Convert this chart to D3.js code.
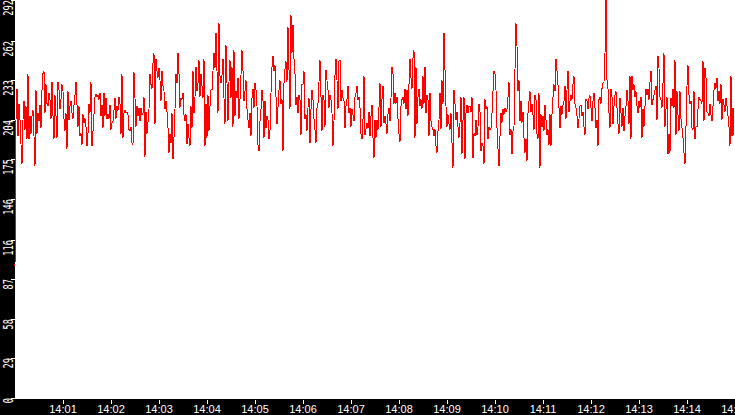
<!DOCTYPE html>
<html>
    <head>
        <title>Sensor trace</title>
        <meta charset="UTF-8">
        <script type="text/javascript" src="https://cdn.jsdelivr.net/npm/d3@7"></script>
        <style>
            body { margin: 0; background: #fff; }
            svg { display: block; }
        </style>
    </head>
    <body>
        <script type="text/javascript">
            // samples taken every 1.25 s starting at 14:00:00
            var startTime = "14:00:00";
            var stepMs = 1250;

            var values = [
                97, 204, 227, 192, 216, 204, 186, 172, 204, 218,
                197, 214, 190, 238, 190, 207, 194, 207, 211, 192,
                170, 226, 194, 209, 203, 215, 198, 226, 238, 240,
                209, 230, 216, 214, 224, 219, 205, 232, 207, 190,
                222, 207, 191, 232, 226, 212, 219, 230, 225, 205,
                196, 209, 183, 225, 204, 214, 218, 209, 205, 215,
                222, 232, 215, 199, 214, 192, 194, 186, 208, 202,
                205, 199, 185, 194, 216, 209, 232, 185, 196, 208,
                221, 223, 221, 222, 219, 224, 207, 215, 198, 224,
                207, 220, 205, 208, 205, 215, 197, 202, 203, 211,
                220, 205, 214, 211, 221, 216, 194, 238, 191, 209,
                211, 209, 210, 208, 197, 196, 199, 187, 186, 239,

                220, 199, 214, 207, 213, 203, 213, 208, 209, 221,
                177, 210, 194, 202, 212, 238, 230, 227, 246, 253,
                201, 249, 240, 235, 242, 233, 218, 240, 229, 225,
                212, 218, 210, 198, 180, 194, 187, 209, 175, 191,
                212, 238, 231, 253, 238, 213, 220, 219, 224, 208,
                203, 208, 186, 201, 191, 185, 214, 198, 240, 209,
                221, 243, 225, 231, 248, 221, 238, 229, 220, 249,
                185, 216, 191, 222, 196, 214, 226, 226, 240, 253,
                242, 268, 240, 209, 275, 236, 231, 237, 249, 220,
                201, 259, 231, 203, 232, 248, 220, 243, 199, 255,
                207, 225, 220, 235, 205, 219, 237, 255, 240, 218,
                225, 233, 212, 204, 198, 209, 192, 220, 227, 213,

                231, 226, 214, 186, 181, 203, 212, 226, 218, 191,
                218, 198, 207, 204, 190, 196, 224, 243, 251, 240,
                244, 221, 201, 213, 226, 233, 216, 219, 181, 231,
                241, 247, 232, 272, 241, 212, 281, 253, 274, 249,
                238, 215, 221, 209, 222, 219, 193, 230, 230, 240,
                205, 208, 196, 213, 220, 187, 212, 226, 219, 205,
                197, 187, 213, 216, 232, 248, 221, 196, 222, 219,
                199, 241, 233, 226, 213, 222, 219, 209, 185, 203,
                237, 249, 233, 212, 247, 248, 218, 226, 220, 218,
                198, 214, 219, 229, 209, 213, 199, 212, 208, 203,
                221, 224, 229, 219, 221, 213, 194, 190, 204, 236,
                193, 197, 202, 198, 210, 192, 207, 215, 191, 176,

                204, 191, 204, 197, 213, 231, 199, 219, 229, 202,
                207, 201, 194, 208, 213, 203, 220, 243, 238, 216,
                224, 216, 221, 205, 194, 188, 214, 219, 221, 216,
                227, 212, 226, 207, 230, 249, 235, 227, 249, 255,
                191, 243, 201, 221, 227, 214, 219, 212, 236, 216,
                243, 209, 222, 219, 192, 224, 203, 199, 197, 192,
                197, 185, 180, 196, 204, 224, 197, 233, 216, 268,
                241, 214, 199, 208, 201, 197, 209, 187, 169, 226,
                216, 204, 210, 199, 191, 202, 221, 179, 204, 221,
                175, 209, 215, 209, 214, 214, 210, 221, 176, 194,
                192, 204, 193, 199, 216, 210, 181, 187, 185, 172,
                219, 212, 214, 190, 199, 197, 198, 209, 225, 240,

                238, 226, 198, 183, 170, 192, 209, 202, 212, 208,
                213, 210, 212, 221, 232, 193, 197, 179, 196, 199,
                241, 275, 258, 225, 233, 203, 218, 202, 210, 191,
                180, 190, 174, 209, 218, 225, 210, 216, 208, 197,
                222, 219, 194, 190, 224, 169, 208, 199, 207, 196,
                215, 204, 193, 197, 186, 208, 185, 208, 221, 230,
                225, 249, 240, 230, 213, 198, 214, 208, 215, 218,
                229, 205, 226, 240, 210, 218, 222, 219, 230, 236,
                216, 213, 207, 198, 205, 214, 215, 207, 210, 199,
                193, 219, 218, 212, 220, 222, 213, 203, 218, 224,
                213, 198, 204, 185, 219, 221, 216, 227, 231, 232,
                253, 292, 233, 227, 209, 198, 227, 221, 201, 214,

                222, 225, 213, 201, 194, 220, 209, 199, 213, 196,
                207, 214, 226, 218, 201, 236, 190, 236, 226, 230,
                221, 225, 214, 209, 218, 213, 221, 191, 212, 199,
                214, 227, 222, 227, 219, 232, 240, 215, 219, 222,
                226, 229, 204, 251, 242, 221, 219, 213, 231, 253,
                199, 212, 221, 179, 194, 180, 220, 214, 227, 213,
                248, 193, 225, 208, 196, 225, 205, 198, 191, 180,
                172, 199, 229, 244, 222, 216, 218, 198, 197, 225,
                190, 199, 199, 212, 221, 219, 218, 216, 247, 203,
                242, 235, 210, 209, 207, 216, 208, 203, 214, 226,
                231, 227, 235, 218, 225, 216, 230, 204, 219, 215,
                210, 220, 214, 207, 199, 185, 236, 192, 213, 193
            ];

            var yTickLabels = [0, 29, 58, 87, 116, 146, 175, 204, 233, 262, 292];
            var xTickLabels = ["14:01", "14:02", "14:03", "14:04", "14:05", "14:06", "14:07", "14:08",
                "14:09", "14:10", "14:11", "14:12", "14:13", "14:14", "14:15"];

            var w = 735, h = 415,
                    left = 15, bottom = 399;

            var parseTime = d3.timeParse("%H:%M:%S"),
                    parseMinute = d3.timeParse("%H:%M");
            var t0 = parseTime(startTime);

            var points = values.map(function(v, i) {
                return {t: new Date(t0.getTime() + i * stepMs), v: v};
            });

            var x = d3.scaleTime()
                    .domain([t0, parseMinute("14:15")])
                    .range([left, w]);

            var y = d3.scaleLinear()
                    .domain([0, d3.max(values)])
                    .range([bottom - 1, 0]);

            var svg = d3.select("body").append("svg")
                    .attr("width", w)
                    .attr("height", h);

            svg.append("rect")
                    .attr("width", w)
                    .attr("height", h)
                    .attr("fill", "white");

            // black frame strips
            svg.append("rect")
                    .attr("x", 0).attr("y", 0)
                    .attr("width", left).attr("height", h)
                    .attr("fill", "black");
            svg.append("rect")
                    .attr("x", 0).attr("y", bottom)
                    .attr("width", w).attr("height", h - bottom)
                    .attr("fill", "black");

            var line = d3.line()
                    .x(function(d) { return x(d.t); })
                    .y(function(d) { return y(d.v); });

            svg.append("path")
                    .datum(points)
                    .attr("d", line)
                    .attr("fill", "none")
                    .attr("stroke", "#ff0000")
                    .attr("stroke-width", 1)
                    .attr("shape-rendering", "crispEdges");

            // y axis
            var yAxis = svg.append("g").attr("class", "y-axis");
            var yTicks = yAxis.selectAll("g")
                    .data(yTickLabels)
                    .enter()
                    .append("g")
                    .attr("transform", function(d) {
                        return "translate(0," + Math.round(y(d)) + ")";
                    });
            yTicks.append("line")
                    .attr("x1", 11).attr("x2", left)
                    .attr("y1", 0.5).attr("y2", 0.5)
                    .attr("stroke", "white")
                    .attr("shape-rendering", "crispEdges");
            yTicks.append("text")
                    .attr("transform", "translate(13,0) rotate(-90) scale(0.62,1)")
                    .attr("text-anchor", "end")
                    .attr("fill", "white")
                    .style("font-family", "'DejaVu Sans Mono', monospace")
                    .style("font-size", "14px")
                    .text(function(d) { return d; });

            // x axis
            var xAxis = svg.append("g").attr("class", "x-axis");
            var xTicks = xAxis.selectAll("g")
                    .data(xTickLabels)
                    .enter()
                    .append("g")
                    .attr("transform", function(d) {
                        return "translate(" + Math.round(x(parseMinute(d))) + "," + bottom + ")";
                    });
            xTicks.append("line")
                    .attr("x1", 0.5).attr("x2", 0.5)
                    .attr("y1", 1).attr("y2", 5)
                    .attr("stroke", "white")
                    .attr("shape-rendering", "crispEdges");
            xTicks.append("text")
                    .attr("y", 14)
                    .attr("text-anchor", "middle")
                    .attr("fill", "white")
                    .style("font-family", "'Liberation Sans', Arial, sans-serif")
                    .style("font-size", "11px")
                    .text(function(d) { return d; });
        </script>
    </body>
</html>
